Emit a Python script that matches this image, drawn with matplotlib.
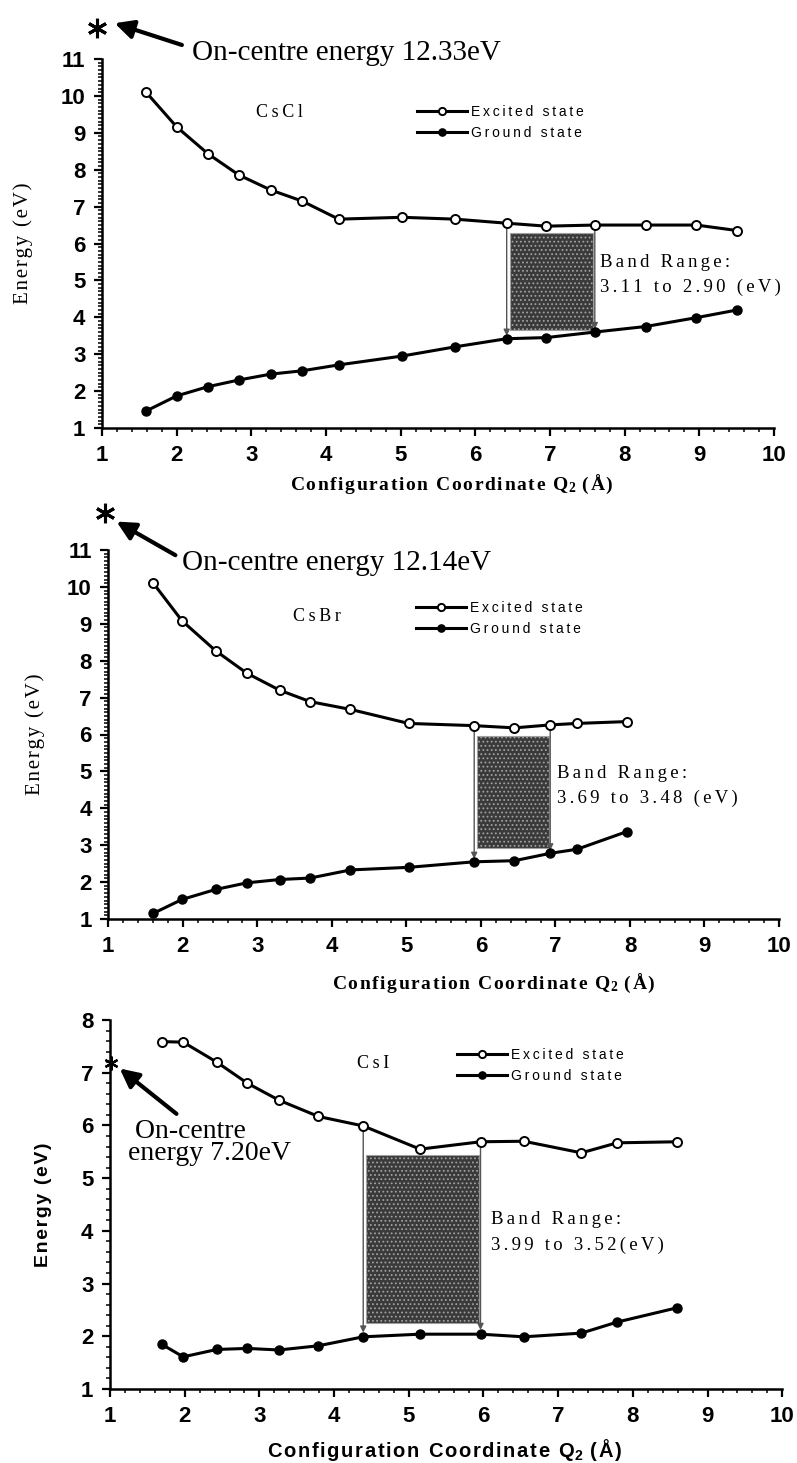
import numpy as np
import matplotlib
matplotlib.use("Agg")
import matplotlib.pyplot as plt
from matplotlib.patches import Rectangle
from matplotlib.ticker import MultipleLocator

plt.rcParams["font.family"] = ["Liberation Sans", "DejaVu Sans"]
plt.rcParams["hatch.linewidth"] = 0.8

SERIF = ["Liberation Serif", "DejaVu Serif"]
SANS = ["Liberation Sans", "DejaVu Sans"]

# ---- data ----
cscl_q = [1.59, 2.00, 2.42, 2.83, 3.26, 3.68, 4.17, 5.02, 5.73, 6.42, 6.95, 7.60, 8.28, 8.96, 9.51]
cscl_exc = [10.10, 9.16, 8.43, 7.86, 7.45, 7.15, 6.66, 6.71, 6.66, 6.55, 6.47, 6.50, 6.50, 6.50, 6.35]
cscl_gnd = [1.46, 1.87, 2.12, 2.30, 2.46, 2.55, 2.71, 2.95, 3.20, 3.42, 3.45, 3.60, 3.75, 3.99, 4.20]

csbr_q = [1.60, 1.99, 2.44, 2.86, 3.30, 3.71, 4.25, 5.03, 5.91, 6.45, 6.93, 7.29, 7.96]
csbr_exc = [10.11, 9.08, 8.27, 7.66, 7.20, 6.89, 6.68, 6.30, 6.24, 6.18, 6.26, 6.30, 6.35]
csbr_gnd = [1.15, 1.53, 1.80, 1.98, 2.07, 2.11, 2.33, 2.40, 2.55, 2.58, 2.78, 2.89, 3.37]

csi_q = [1.69, 1.98, 2.43, 2.84, 3.26, 3.79, 4.39, 5.15, 5.96, 6.54, 7.31, 7.79, 8.59]
csi_exc = [7.59, 7.58, 7.20, 6.80, 6.48, 6.17, 5.99, 5.55, 5.69, 5.70, 5.48, 5.67, 5.69]
csi_gnd = [1.85, 1.61, 1.75, 1.77, 1.74, 1.82, 1.99, 2.04, 2.04, 1.99, 2.06, 2.27, 2.54]

names = ["CsCl", "CsBr", "CsI"]
on_centre = [12.33, 12.14, 7.20]
band_text = ["3.11 to 2.90 (eV)", "3.69 to 3.48 (eV)", "3.99 to 3.52(eV)"]
band_idx = [(9, 11), (8, 10), (6, 8)]          # points joined by the band arrows
band_y = [(3.65, 6.28), (2.92, 5.96), (2.25, 5.44)]  # shaded box bottom/top
star_xy = [(0.93, 11.84), (0.96, 11.99), (1.02, 7.18)]

THIN = "\u2009"
HAIR = "\u200a"


def spaced(s, gap=HAIR):
    # the original figure uses letter-spaced text
    return gap.join(s)


panels = [
    dict(q=cscl_q, exc=cscl_exc, gnd=cscl_gnd, ylim=(1, 11), yminor=0.1,
         rect=[102 / 797, 1 - 428 / 1463, 672 / 797, 369 / 1463],
         name_xy=(3.38, 9.54), leg=(0.469, 0.875), band_xy=(7.67, 5.15),
         arrow=((2.07, 11.38), (1.17, 11.97)), note_xy=(2.2, 10.97),
         ylab=(-0.103, 0.5), xlab=(0.52, -0.122), sans_labels=False),
    dict(q=csbr_q, exc=csbr_exc, gnd=csbr_gnd, ylim=(1, 11), yminor=0.1,
         rect=[108.3 / 797, 1 - 919 / 1463, 670.7 / 797, 369 / 1463],
         name_xy=(3.80, 9.19), leg=(0.459, 0.862), band_xy=(7.02, 4.6),
         arrow=((1.90, 10.86), (1.11, 11.77)), note_xy=(1.99, 10.46),
         ylab=(-0.094, 0.5), xlab=(0.575, -0.144), sans_labels=False),
    dict(q=csi_q, exc=csi_exc, gnd=csi_gnd, ylim=(1, 8), yminor=0.2,
         rect=[110 / 797, 1 - 1389 / 1463, 672.3 / 797, 369 / 1463],
         name_xy=(4.52, 7.18), leg=(0.516, 0.924), band_xy=(6.1, 3.97),
         arrow=((1.89, 6.22), (1.13, 7.08)), note_xy=(1.24, 6.12),
         ylab=(-0.086, 0.5), xlab=(0.498, -0.13), sans_labels=True),
]

fig = plt.figure(figsize=(7.97, 14.63), dpi=100)

for i, p in enumerate(panels):
    ax = fig.add_axes(p["rect"])
    q = p["q"]
    ax.plot(q, p["exc"], "-o", color="black", lw=2.2, ms=6.5, mfc="white",
            mec="black", mew=1.4, label=spaced("Excited state", THIN), zorder=4)
    ax.plot(q, p["gnd"], "-o", color="black", lw=2.2, ms=6.5, mfc="black",
            mec="black", label=spaced("Ground state", THIN), zorder=4)

    ax.set_xlim(1, 10)
    ax.set_ylim(*p["ylim"])
    for s in ["top", "right"]:
        ax.spines[s].set_visible(False)
    for s in ["left", "bottom"]:
        ax.spines[s].set_linewidth(1.8)
    ax.xaxis.set_major_locator(MultipleLocator(1))
    ax.xaxis.set_minor_locator(MultipleLocator(0.2))
    ax.yaxis.set_major_locator(MultipleLocator(1))
    ax.yaxis.set_minor_locator(MultipleLocator(p["yminor"]))
    ax.tick_params(which="major", direction="out", length=6, width=1.6, pad=6,
                   labelsize=16)
    ax.tick_params(which="minor", direction="out", length=3, width=1.1)
    for lab in ax.get_xticklabels() + ax.get_yticklabels():
        lab.set_fontweight("bold")
        lab.set_family(SANS)

    # shaded band and the two transition arrows
    i0, i1 = band_idx[i]
    y0, y1 = band_y[i]
    ax.add_patch(Rectangle((q[i0] + 0.04, y0), q[i1] - q[i0] - 0.06, y1 - y0,
                           facecolor="#3a3a3a", edgecolor="#a0a0a0", hatch="....",
                           lw=0.8, zorder=2))
    for k in (i0, i1):
        ax.annotate("", xy=(q[k], p["gnd"][k] + 0.08), xytext=(q[k], p["exc"][k]),
                    arrowprops=dict(arrowstyle="-|>", color="#555555", lw=1.0,
                                    mutation_scale=9, shrinkA=0, shrinkB=0),
                    zorder=3)
    ax.text(p["band_xy"][0], p["band_xy"][1],
            spaced("Band Range:", HAIR * 2) + "\n" + spaced(band_text[i], HAIR * 2),
            family=SERIF, fontsize=13.5, va="center", ha="left", linespacing=1.6)

    ax.text(*p["name_xy"], spaced(names[i], THIN), family=SERIF, fontsize=13,
            ha="center", va="center")

    ax.legend(loc="upper left", bbox_to_anchor=p["leg"], frameon=False,
              fontsize=10, handlelength=3.6, handletextpad=0.3,
              borderpad=0, borderaxespad=0, labelspacing=0.5, markerscale=0.8)

    # on-centre energy star and arrow
    sx, sy = star_xy[i]
    ax.plot([sx], [sy], marker=(6, 2, 0), ms=14 if i < 2 else 10,
            mew=2.2 if i < 2 else 1.6, color="black", clip_on=False, zorder=5)
    tail, head = p["arrow"]
    ax.annotate("", xy=head, xytext=tail,
                arrowprops=dict(arrowstyle="-|>", color="black", lw=3,
                                mutation_scale=28, shrinkA=0, shrinkB=0),
                annotation_clip=False)
    if i < 2:
        ax.text(*p["note_xy"], f"On-centre energy {on_centre[i]:.2f}eV",
                family=SERIF, fontsize=21, ha="left", va="baseline", clip_on=False)
    else:
        ax.text(*p["note_xy"], f" On-centre\nenergy {on_centre[i]:.2f}eV",
                family=SERIF, fontsize=20, ha="left", va="top",
                linespacing=0.85)

    xlabel = (spaced("Configuration Coordinate Q") + r"$\mathregular{_2}$"
              + spaced(" (Å)"))
    ylabel = spaced("Energy (eV)")
    if p["sans_labels"]:
        ax.set_xlabel(xlabel, family=SANS, fontsize=14.5, fontweight="bold")
        ax.set_ylabel(ylabel, family=SANS, fontsize=14, fontweight="bold")
    else:
        ax.set_xlabel(xlabel, family=SERIF, fontsize=14, fontweight="bold")
        ax.set_ylabel(ylabel, family=SERIF, fontsize=15)
    ax.xaxis.set_label_coords(*p["xlab"])
    ax.yaxis.set_label_coords(*p["ylab"])

fig.savefig("out.png", dpi=100)
